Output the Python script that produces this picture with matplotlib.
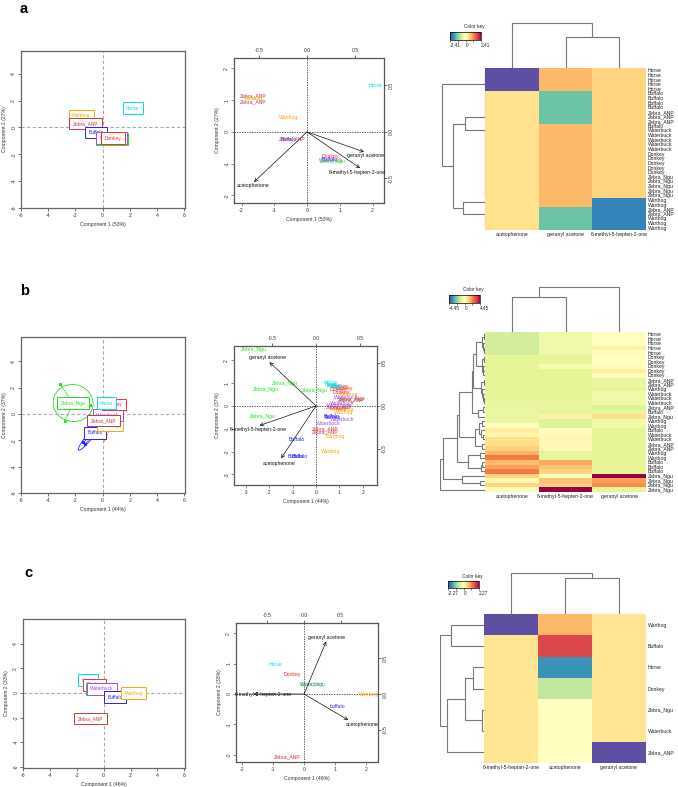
import numpy as np
import matplotlib
matplotlib.use('Agg')
import matplotlib.pyplot as plt
from matplotlib.patches import Ellipse
from matplotlib.cm import ScalarMappable
from matplotlib.colors import Normalize

plt.rcParams['font.family'] = ['Liberation Sans', 'DejaVu Sans']
plt.rcParams['axes.unicode_minus'] = False

W, H = 678, 787
FS = 3.7
CMAP = 'Spectral_r'
COL = {'Buffalo': '#2020ff', 'Donkey': '#ff2a2a', 'Horse': '#00dde6', 'Warthog': '#ffa500',
       'Waterbuck': '#9a50ee', 'Zebra_ANP': '#c43a3a', 'Zebra_Ngu': '#22dd22'}

# ---------------- panel a data ----------------
a1_names = ['Horse', 'Warthog', 'Zebra_ANP', 'Buffalo', 'Zebra_Ngu', 'Waterbuck', 'Donkey']
a1_x = [2.2, -1.57, -1.25, -0.5, 0.7, 0.65, 0.75]
a1_y = [1.45, 0.88, 0.3, -0.37, -0.85, -0.8, -0.8]

a2_names = ['Horse', 'Zebra_ANP', 'Warthog', 'Zebra_ANP', 'Warthog', 'Buffalo', 'Zebra_ANP',
            'Donkey', 'Buffalo', 'Waterbuck', 'Zebra_Ngu']
a2_x = [2.1, -1.64, -1.64, -1.64, -0.57, -0.55, -0.45, 0.7, 0.7, 0.75, 0.8]
a2_y = [1.45, 1.14, 1.04, 0.96, 0.46, -0.23, -0.23, -0.78, -0.86, -0.89, -0.93]
a_vars = ['acetophenone', 'geranyl acetone', '6-methyl-5-hepten-2-one']
a_tip_x = [-0.553, 0.594, 0.553]
a_tip_y = [-0.539, -0.215, -0.389]
a_lab_x = [-0.563, 0.614, 0.522]
a_lab_y = [-0.58, -0.249, -0.44]

a_rows = ['Horse'] * 5 + ['Buffalo'] * 4 + ['Zebra_ANP'] * 3 + ['Buffalo'] + ['Waterbuck'] * 5 + \
         ['Donkey'] * 5 + ['Zebra_Ngu'] * 5 + ['Warthog'] * 2 + ['Zebra_ANP'] * 2 + ['Warthog'] * 3
a_cols = ['acetophenone', 'geranyl acetone', '6-methyl-5-hepten-2-one']
a_block_size = [5, 7, 16, 2, 5]
a_block_vals = [[-2.41, 0.85, 0.60],
                [0.45, -1.40, 0.60],
                [0.45, 0.85, 0.60],
                [0.45, 0.85, -1.95],
                [0.45, -1.40, -1.95]]

# ---------------- panel b data ----------------
b1_names = ['Zebra_Ngu', 'Buffalo', 'Warthog', 'Waterbuck', 'Zebra_ANP', 'Donkey', 'Horse']
b1_x = [-2.17, -0.57, 0.54, 0.4, 0.05, 0.85, 0.28]
b1_y = [0.83, -1.42, -0.85, -0.1, -0.5, 0.72, 0.82]
b1_ngu_x = [-3.15, -0.95, -2.78, -1.9, -2.2]
b1_ngu_y = [2.3, 0.7, -0.56, 1.2, 0.7]
b1_buf_x = [-1.45, -1.2, -1.3, -0.3, -0.25]
b1_buf_y = [-2.15, -1.85, -2.3, -0.9, -0.95]
b1_ell = [('Zebra_Ngu', -2.17, 0.83, 2.95, 2.8, -20),
          ('Buffalo', -0.97, -1.72, 2.6, 0.45, 52),
          ('Donkey', 0.75, 0.35, 1.2, 0.18, 42),
          ('Zebra_ANP', 0.7, 0.3, 1.1, 0.12, 45),
          ('Waterbuck', 0.7, -0.05, 1.2, 0.15, 5),
          ('Warthog', 0.35, -1.4, 1.5, 0.12, 70)]

b2_names = ['Zebra_Ngu'] * 5 + ['Buffalo'] * 5 + ['Warthog'] * 5 + ['Zebra_ANP'] * 5 + \
           ['Waterbuck'] * 5 + ['Donkey'] * 5 + ['Horse'] * 5
b2_x = [-2.67, -1.35, -2.13, -0.07, -2.27,
        -0.82, -0.85, -0.7, 0.71, 0.68,
        0.64, 0.85, 1.19, 1.38, 1.2,
        0.38, 0.4, 1.56, 1.0, 1.5,
        0.5, 1.13, 1.13, 1.3, 1.0,
        0.95, 1.02, 0.95, 1.2, 1.1,
        0.6, 0.74, 0.8, 0.65, 0.9]
b2_y = [2.46, 1.0, 0.70, 0.67, -0.47,
        -1.49, -2.2, -2.22, -0.5, -0.45,
        -2.0, -1.35, -0.29, 0.48, -0.15,
        -1.02, -1.14, 0.29, -0.05, 0.25,
        -0.76, -0.58, 0.09, 0.38, 0.0,
        0.70, 0.85, -0.1, 0.75, 0.6,
        1.02, 0.85, 0.9, 0.95, 0.8]
b_vars = ['geranyl acetone', '6-methyl-5-hepten-2-one', 'acetophenone']
b_tip_x = [-0.526, -0.638, -0.394]
b_tip_y = [0.508, -0.228, -0.608]
b_lab_x = [-0.548, -0.648, -0.415]
b_lab_y = [0.561, -0.278, -0.672]

b_rows = ['Horse'] * 5 + ['Donkey'] * 5 + ['Zebra_ANP'] * 2 + ['Warthog'] + ['Waterbuck'] * 3 + \
         ['Zebra_ANP', 'Buffalo', 'Zebra_Ngu'] + ['Warthog'] * 2 + ['Buffalo'] + ['Waterbuck'] * 2 + \
         ['Zebra_ANP'] * 2 + ['Warthog'] * 2 + ['Buffalo'] * 3 + ['Zebra_Ngu'] * 4
b_cols = ['acetophenone', '6-methyl-5-hepten-2-one', 'geranyl acetone']
b_acet = [-1.16, -1.16, -1.16, -1.16, -1.16, -0.89, -0.89, -0.89, -0.89, -0.89,
          -0.89, -0.89, -0.89, -0.89, -0.89, -0.71, -0.71, -0.71, -0.71, -0.71,
          0.00, 0.53, 0.27, 0.89, 0.89, 1.16, 1.60, 2.49, 1.51, 1.96,
          2.49, 1.07, 0.27, 1.07, 0.09]
b_meth = [-0.53, -0.53, -0.53, -0.53, -0.53, -0.89, -0.89, -0.36, -0.89, -0.89,
          -0.89, -0.89, -0.89, -0.89, -0.89, -0.71, -0.71, -0.89, 0.36, -0.98,
          -0.98, 0.00, 0.18, 0.18, 0.18, 0.18, -0.80, -0.80, 1.87, 1.42,
          1.07, 0.00, 1.42, 1.16, 4.45]
b_ger = [0.00, 0.00, 0.00, 0.45, 0.09, 0.00, 0.00, 0.09, 0.53, 0.09,
         -0.71, -0.71, -0.89, -0.53, -0.53, -0.53, -0.98, -0.80, 0.89, -0.53,
         -0.53, -0.89, -0.89, -0.89, -0.89, -0.89, -0.89, -0.89, -0.89, -0.89,
         -0.89, 4.45, 1.96, 2.23, -0.89]

# ---------------- panel c data ----------------
c1_names = ['Horse', 'Donkey', 'Zebra_Ngu', 'Waterbuck', 'Buffalo', 'Warthog', 'Zebra_ANP']
c1_x = [-1.17, -0.67, -0.17, -0.12, 0.87, 2.24, -0.97]
c1_y = [1.04, 0.66, 0.33, 0.33, -0.36, -0.03, -2.08]

c2_labels = ['Horse', 'Donkey', 'Waterbuck', 'Zebra_Ngu', 'Warthog', 'buffalo', 'Zebra_ANP']
c2_groups = ['Horse', 'Donkey', 'Waterbuck', 'Zebra_Ngu', 'Warthog', 'Buffalo', 'Zebra_ANP']
c2_x = [-0.93, -0.36, 0.25, 0.28, 2.07, 1.07, -0.55]
c2_y = [0.98, 0.65, 0.31, 0.31, -0.03, -0.4, -2.07]
c_vars = ['geranyl acetone', 'acetophenone', '6-methyl-5-hepten-2-one']
c_tip_x = [0.302, 0.604, -0.689]
c_tip_y = [0.736, -0.366, 0.0]
c_lab_x = [0.302, 0.787, -0.553]
c_lab_y = [0.796, -0.421, 0.0]

c_rows = ['Warthog', 'Buffalo', 'Horse', 'Donkey', 'Zebra_Ngu', 'Waterbuck', 'Zebra_ANP']
c_cols = ['6-methyl-5-heptan-2-one', 'acetophenone', 'geranyl acetone']
c_meth = [-2.27, 0.378, 0.378, 0.378, 0.378, 0.378, 0.378]
c_acet = [0.80, 1.72, -1.73, -0.73, 0.0, 0.0, 0.0]
c_ger = [0.378, 0.378, 0.378, 0.378, 0.378, 0.378, -2.27]


# dendrogram trees: int = leaf row, (height, left, right) = merge
def chain(leaves, h, right=False):
    if right:
        node = leaves[-1]
        for l in leaves[-2::-1]:
            node = (h, l, node)
    else:
        node = leaves[0]
        for l in leaves[1:]:
            node = (h, node, l)
    return node


a_row_tree = (130, chain(list(range(0, 5)), 1.5),
              (97, (60, chain(list(range(5, 12)), 1.5), chain(list(range(12, 28)), 1.5, True)),
               (65, chain([28, 29], 1.5), chain(list(range(30, 35)), 1.5, True))))
a_col_tree = (45, 0, (31, 1, 2))

b_row_tree = (135,
              (125,
               (85,
                (77,
                 (40,
                  (35,
                   (27, (8, (3, 0, 1), (6, 2, (4, 3, 4))), (9, (3, 5, 6), (7, (5, 7, 8), 9))),
                   (12, (4, 10, 11), (8, 12, (5, 13, (3, 14, 15))))),
                  (20, (6, 16, 17), 18)),
                 (30, (18, (8, 19, 20), (12, 21, (6, 22, 23))), (10, 24, 25))),
                (50, (15, 26, 27), (12, (8, 28, 29), 30))),
               (70, 31, (15, 32, 33))),
              34)
b_col_tree = (45, (35, 0, 1), 2)

c_row_tree = (133, (100, 0, 1), (111, (58, (33, 2, 3), (5, 4, 5)), 6))
c_col_tree = (41, 0, (36, 1, 2))


def pbox(x0, y0, x1, y1):
    return [x0 / W, 1 - y1 / H, (x1 - x0) / W, (y1 - y0) / H]


fig = plt.figure(figsize=(W / 100, H / 100), dpi=100)


def r_frame(ax, color='#555555'):
    for s in ax.spines.values():
        s.set_color(color)
        s.set_linewidth(0.9)
    ax.tick_params(length=2.2, width=0.5, pad=1.2, labelsize=FS, colors='#333333')


def class_plot(pos, names, xs, ys, ylim, xlab, ylab, ells=(), spokes=()):
    ax = fig.add_axes(pbox(*pos))
    ax.set_xlim(-6, 6.05)
    ax.set_ylim(*ylim)
    ax.axhline(0, color='#aaaaaa', lw=0.8, ls=(0, (3, 2)), zorder=0)
    ax.axvline(0, color='#aaaaaa', lw=0.8, ls=(0, (3, 2)), zorder=0)
    for g, cx, cy, w, h, ang in ells:
        ax.add_patch(Ellipse((cx, cy), w, h, angle=ang, fill=False, ec=COL[g], lw=0.6))
    for g, px, py in spokes:
        i = names.index(g)
        for x, y in zip(px, py):
            ax.plot([xs[i], x], [ys[i], y], color=COL[g], lw=0.5)
            ax.plot(x, y, 's', ms=1.2, color=COL[g])
    for n, x, y in zip(names, xs, ys):
        ax.text(x, y, n, color=COL[n], fontsize=FS - 0.2, ha='center', va='center',
                bbox=dict(boxstyle='square,pad=0.7', fc='white', ec=COL[n], lw=0.7))
    ax.set_xticks(range(-6, 7, 2))
    ax.set_yticks(range(-6, 5, 2))
    r_frame(ax, '#666666')
    for lab in ax.get_yticklabels():
        lab.set_rotation(90)
        lab.set_va('center')
    ax.set_xlabel(xlab, fontsize=FS, labelpad=3, color='#333333')
    ax.set_ylabel(ylab, fontsize=FS, labelpad=3, color='#333333')
    return ax


def biplot(pos, ratio, xlim, ylim, ticks, sx, sy, slab, sgrp, vlab, tx, ty, lx, ly, xlab, ylab):
    ax = fig.add_axes(pbox(*pos))
    ax.set_xlim(*xlim)
    ax.set_ylim(*ylim)
    ax.axhline(0, color='#222222', lw=0.5, ls=(0, (2, 1.6)), zorder=0)
    ax.axvline(0, color='#222222', lw=0.5, ls=(0, (2, 1.6)), zorder=0)
    for x, y, t, g in zip(sx, sy, slab, sgrp):
        ax.text(x, y, t, color=COL[g], fontsize=FS, ha='center', va='center')
    ax.set_xticks(ticks)
    ax.set_yticks(ticks)
    r_frame(ax)
    ax.tick_params(color='#cc3333')
    for lab in ax.get_yticklabels():
        lab.set_rotation(90)
        lab.set_va('center')
    ax.set_xlabel(xlab, fontsize=FS, labelpad=3, color='#333333')
    ax.set_ylabel(ylab, fontsize=FS, labelpad=3, color='#333333')

    ax2 = fig.add_axes(pbox(*pos), frameon=False, label='load' + xlab + str(pos))
    ax2.set_xlim(xlim[0] / ratio, xlim[1] / ratio)
    ax2.set_ylim(ylim[0] / ratio, ylim[1] / ratio)
    ax2.patch.set_visible(False)
    ax2.xaxis.tick_top()
    ax2.yaxis.tick_right()
    ax2.set_xticks([-0.5, 0.0, 0.5])
    ax2.set_yticks([-0.5, 0.0, 0.5])
    ax2.set_xticklabels(['-0.5', '0.0', '0.5'])
    ax2.set_yticklabels(['-0.5', '0.0', '0.5'])
    ax2.tick_params(length=2.2, width=0.5, pad=1.2, labelsize=FS, colors='#333333')
    for lab in ax2.get_yticklabels():
        lab.set_rotation(90)
        lab.set_va('center')
    for t, x, y, a, b in zip(vlab, tx, ty, lx, ly):
        ax2.annotate('', xy=(x, y), xytext=(0, 0),
                     arrowprops=dict(arrowstyle='->', lw=0.5, color='#111111',
                                     shrinkA=0, shrinkB=0, mutation_scale=6))
        ax2.text(a, b, t, fontsize=FS, ha='center', va='center', color='#111111')


def dendro(ax, node, rows, color='#777777'):
    if isinstance(node, int):
        return node + 0.5, 0.0
    h, l, r = node
    pl, hl = dendro(ax, l, rows, color)
    pr, hr = dendro(ax, r, rows, color)
    if rows:
        ax.plot([hl, h, h, hr], [pl, pl, pr, pr], color=color, lw=0.8, solid_joinstyle='miter')
    else:
        ax.plot([pl, pl, pr, pr], [hl, h, h, hr], color=color, lw=0.8, solid_joinstyle='miter')
    return (pl + pr) / 2, h


def heatmap(hm_pos, rd_pos, cd_pos, key_pos, vals, rows, cols, vmax, rtree, ctree, rmax, cmax):
    n, m = vals.shape
    ax = fig.add_axes(pbox(*hm_pos))
    ax.pcolormesh(vals, cmap=CMAP, vmin=-vmax, vmax=vmax)
    ax.set_xlim(0, m)
    ax.set_ylim(n, 0)
    for s in ax.spines.values():
        s.set_visible(False)
    ax.yaxis.tick_right()
    ax.set_yticks(np.arange(n) + 0.5)
    ax.set_yticklabels(rows)
    ax.set_xticks(np.arange(m) + 0.5)
    ax.set_xticklabels(cols)
    ax.tick_params(length=0, labelsize=FS, pad=1.5, colors='#222222')

    axr = fig.add_axes(pbox(*rd_pos))
    dendro(axr, rtree, True)
    axr.set_xlim(rmax, 0)
    axr.set_ylim(n, 0)
    axr.axis('off')

    axc = fig.add_axes(pbox(*cd_pos))
    dendro(axc, ctree, False)
    axc.set_xlim(0, m)
    axc.set_ylim(0, cmax)
    axc.axis('off')

    axk = fig.add_axes(pbox(*key_pos))
    cb = fig.colorbar(ScalarMappable(Normalize(-vmax, vmax), CMAP), cax=axk, orientation='horizontal')
    cb.outline.set_linewidth(0.5)
    lab = f'{vmax:.2f}'
    cb.set_ticks([-vmax, -vmax / 2, 0, vmax / 2, vmax])
    cb.set_ticklabels(['-' + lab, '', '0', '', lab])
    axk.tick_params(length=1.5, width=0.4, labelsize=FS - 0.3, pad=1, colors='#222222')
    for t in axk.get_xticklabels():
        t.set_ha('left')
    axk.text(0.8, 1.35, 'Color key', transform=axk.transAxes, fontsize=FS - 0.3,
             ha='center', va='bottom', color='#222222')


# ---------------- draw panel a ----------------
class_plot((21, 51, 185, 208), a1_names, a1_x, a1_y, (-6, 5.7),
           'Component 1 (53%)', 'Component 2 (27%)')
biplot((234, 58, 384, 203), 2.93, (-2.23, 2.35), (-2.24, 2.33), [-2, -1, 0, 1, 2],
       a2_x, a2_y, a2_names, a2_names, a_vars, a_tip_x, a_tip_y, a_lab_x, a_lab_y,
       'Component 1 (53%)', 'Component 2 (27%)')
a_vals = np.repeat(np.array(a_block_vals), a_block_size, axis=0)
heatmap((485, 68, 646, 230), (440, 68, 485, 230), (485, 22, 646, 68), (450, 32, 481, 40),
        a_vals, a_rows, a_cols, 2.41, a_row_tree, a_col_tree, 135, 46)

# ---------------- draw panel b ----------------
class_plot((21, 337, 185, 493), b1_names, b1_x, b1_y, (-6, 5.85),
           'Component 1 (44%)', 'Component 2 (37%)', ells=b1_ell,
           spokes=[('Zebra_Ngu', b1_ngu_x, b1_ngu_y), ('Buffalo', b1_buf_x, b1_buf_y)])
biplot((234, 346, 377, 485), 3.78, (-3.5, 2.6), (-3.47, 2.63), [-3, -2, -1, 0, 1, 2],
       b2_x, b2_y, b2_names, b2_names, b_vars, b_tip_x, b_tip_y, b_lab_x, b_lab_y,
       'Component 1 (44%)', 'Component 2 (37%)')
b_vals = np.column_stack([b_acet, b_meth, b_ger])
heatmap((485, 332, 646, 492), (440, 332, 485, 492), (485, 286, 646, 332), (449, 295, 480, 303),
        b_vals, b_rows, b_cols, 4.45, b_row_tree, b_col_tree, 135, 46)

# ---------------- draw panel c ----------------
class_plot((23, 619, 185, 768), c1_names, c1_x, c1_y, (-6.1, 6.0),
           'Component 1 (46%)', 'Component 2 (33%)')
biplot((236, 623, 378, 762), 2.35, (-2.18, 2.37), (-2.24, 2.34), [-2, -1, 0, 1, 2],
       c2_x, c2_y, c2_labels, c2_groups, c_vars, c_tip_x, c_tip_y, c_lab_x, c_lab_y,
       'Component 1 (46%)', 'Component 2 (33%)')
c_vals = np.column_stack([c_meth, c_acet, c_ger])
heatmap((484, 614, 646, 763), (440, 614, 484, 763), (484, 572, 646, 614), (448, 581, 479, 588),
        c_vals, c_rows, c_cols, 2.27, c_row_tree, c_col_tree, 133, 42)

# panel letters
for letter, x, y in [('a', 20, 9), ('b', 20, 291), ('c', 24, 573)]:
    fig.text(x / W, 1 - y / H, letter, fontsize=10.5, fontweight='bold', ha='left', va='center')

fig.savefig('out.png', dpi=100)
